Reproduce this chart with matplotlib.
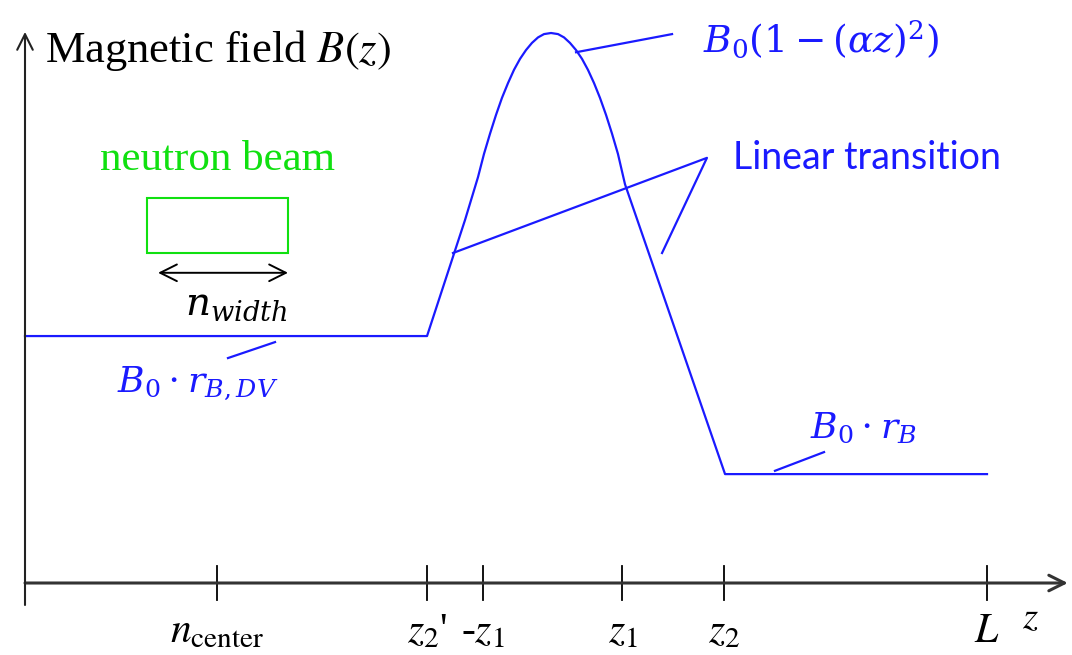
import matplotlib
matplotlib.use("Agg")
import matplotlib.pyplot as plt
from matplotlib.patches import Rectangle

plt.rcParams['mathtext.fontset'] = 'stix'
plt.rcParams['font.family'] = ['Liberation Serif', 'DejaVu Serif']

# field profile B(z)/B0 along z (L = 100)
z_curve = [0, 41.79, 45.74, 47.09, 47.71, 48.34, 48.96, 49.58, 50.21, 50.83, 51.46, 52.08,
           52.70, 53.33, 53.95, 54.68, 55.41, 56.03, 56.65, 57.28, 57.90, 58.52, 59.15,
           59.77, 60.40, 61.02, 61.64, 62.37, 72.77, 100]
b_curve = [0.449, 0.449, 0.660, 0.738, 0.780, 0.817, 0.851, 0.882, 0.909, 0.933, 0.953, 0.969,
           0.982, 0.992, 0.998, 1.000, 0.998, 0.992, 0.982, 0.969, 0.953, 0.933, 0.909,
           0.882, 0.851, 0.817, 0.780, 0.725, 0.198, 0.198]

tick_pos = [20.0, 41.8, 47.6, 62.1, 72.7, 100]
tick_labels = [r'$n_{\mathrm{center}}$', r"$z_2$'", r'-$z_1$', r'$z_1$', r'$z_2$', r'$L$']

blue = '#1a1aff'
green = '#10e010'

fig = plt.figure(figsize=(10.72, 6.55), dpi=100)
ax = fig.add_axes([0, 0, 1, 1])
ax.set_xlim(-2.599, 108.836)
ax.set_ylim(-0.1309, 1.06)
ax.axis('off')

# axes arrows
ax.annotate('', xy=(108.4, 0), xytext=(0, 0),
            arrowprops=dict(arrowstyle='->', lw=2.2, color='#333333', mutation_scale=28,
                            shrinkA=0, shrinkB=0))
ax.annotate('', xy=(0, 1.002), xytext=(0, -0.04),
            arrowprops=dict(arrowstyle='->', lw=1.5, color='#222222', mutation_scale=28,
                            shrinkA=0, shrinkB=0))

for zp, lab in zip(tick_pos, tick_labels):
    ax.plot([zp, zp], [-0.031, 0.031], color='black', lw=1.3)
    ax.text(zp, -0.089, lab, ha='center', va='center', fontsize=30)
ax.text(104.5, -0.064, r'$z$', ha='center', va='center', fontsize=28)

ax.text(2.08, 0.969, r'Magnetic field $B(z)$', ha='left', va='center', fontsize=32)

# field curve
ax.plot(z_curve, b_curve, color=blue, lw=1.6)

# neutron beam box
ax.text(19.96, 0.769, 'neutron beam', color=green, ha='center', va='center', fontsize=31)
ax.add_patch(Rectangle((12.68, 0.6), 14.66, 0.1, fill=False, ec=green, lw=1.5))
ax.annotate('', xy=(27.34, 0.564), xytext=(13.83, 0.564),
            arrowprops=dict(arrowstyle='<->', lw=1.4, color='black', mutation_scale=30,
                            shrinkA=0, shrinkB=0))
ax.text(22.0, 0.505, r'$n_{width}$', ha='center', va='center', fontsize=28,
        math_fontfamily='dejavuserif')

# blue labels with pointer lines
ax.text(17.93, 0.364, r'$B_0 \cdot r_{B,DV}$', color=blue, ha='center', va='center',
        fontsize=26, math_fontfamily='dejavuserif')
ax.plot([21.1, 25.99], [0.409, 0.438], color=blue, lw=1.6)

ax.text(87.2, 0.282, r'$B_0 \cdot r_B$', color=blue, ha='center', va='center',
        fontsize=26, math_fontfamily='dejavuserif')
ax.plot([77.96, 83.06], [0.204, 0.238], color=blue, lw=1.6)

ax.text(70.48, 0.987, r'$B_0(1-(\alpha z)^2)$', color=blue, ha='left', va='center',
        fontsize=27, math_fontfamily='dejavuserif')
ax.plot([57.28, 67.26], [0.965, 0.998], color=blue, lw=1.6)

ax.text(73.6, 0.773, 'Linear transition', color=blue, ha='left', va='center', fontsize=27,
        family=['Lato', 'DejaVu Sans'])
ax.plot([44.49, 70.89, 66.22], [0.6, 0.773, 0.6], color=blue, lw=1.6)

fig.savefig('out.png', dpi=100)
